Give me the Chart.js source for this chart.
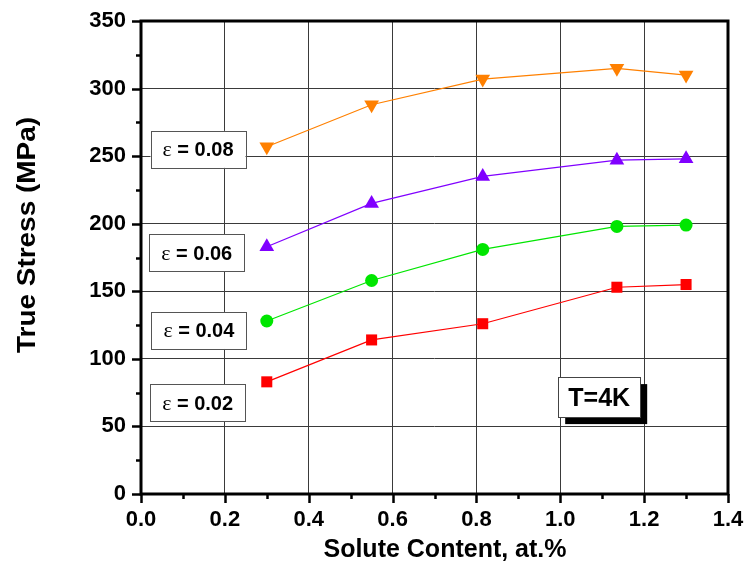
<!DOCTYPE html>
<html>
<head>
<meta charset="utf-8">
<script src="https://cdn.jsdelivr.net/npm/chart.js@4.4.1/dist/chart.umd.min.js"></script>
<style>
  html, body { margin: 0; padding: 0; background: #ffffff; }
  #chart { display: block; }
</style>
</head>
<body>
<canvas id="chart" width="746" height="565"></canvas>
<script>
// Solute content (at.%) for the five alloys
const soluteContent = [0.30, 0.55, 0.815, 1.135, 1.30];

// True stress (MPa) at each strain level
const stressStrain008 = [257, 288, 307, 315, 310];
const stressStrain006 = [183, 215, 235, 247, 248];
const stressStrain004 = [128, 158, 181, 198, 199];
const stressStrain002 = [83, 114, 126, 153, 155];

// Series labels written in the boxes beside each curve
const strainLabels = ['0.08', '0.06', '0.04', '0.02'];
// Where each label box sits, in data units (x, y of box centre)
const strainLabelX = [0.136, 0.133, 0.138, 0.135];
const strainLabelY = [255, 178.5, 121, 67.5];

const xTitle = 'Solute Content, at.%';
const yTitle = 'True Stress (MPa)';
const tempLabel = 'T=4K';

const BOLD = '"Liberation Sans", Arial, Helvetica, sans-serif';

function pts(ys) {
  return soluteContent.map((x, i) => ({ x: x, y: ys[i] }));
}

function series(label, ys, color, style, radius, rotation) {
  return {
    label: label,
    data: pts(ys),
    showLine: true,
    borderColor: color,
    backgroundColor: color,
    borderWidth: 1.2,
    pointStyle: style,
    pointRadius: radius,
    pointRotation: rotation || 0,
    pointBorderWidth: 0,
    pointBackgroundColor: color,
    pointBorderColor: color,
    fill: false,
    tension: 0
  };
}

// keep the plot box fixed: no extra room for overhanging tick labels
function fixScale(size) {
  return function (scale) {
    if (scale.isHorizontal()) scale.height = size; else scale.width = size;
    scale.paddingTop = 0;
    scale.paddingBottom = 0;
    scale.paddingLeft = 0;
    scale.paddingRight = 0;
  };
}

const decorations = {
  id: 'decorations',
  afterDraw(chart) {
    const ctx = chart.ctx;
    const a = chart.chartArea;
    const xs = chart.scales.x;
    const ys = chart.scales.y;
    ctx.save();

    // axis ticks (major and minor), pointing outward
    ctx.strokeStyle = '#000';
    ctx.lineCap = 'butt';
    for (let v = 0; v <= 350; v += 25) {
      const y = Math.round(ys.getPixelForValue(v)) + 0.5;
      const major = v % 50 === 0;
      ctx.lineWidth = 2.5;
      ctx.beginPath();
      ctx.moveTo(a.left, y);
      ctx.lineTo(a.left - (major ? 9 : 5), y);
      ctx.stroke();
    }
    for (let k = 0; k <= 14; k++) {
      const x = Math.round(xs.getPixelForValue(k / 10)) + 0.5;
      const major = k % 2 === 0;
      ctx.lineWidth = 2.5;
      ctx.beginPath();
      ctx.moveTo(x, a.bottom);
      ctx.lineTo(x, a.bottom + (major ? 9 : 5));
      ctx.stroke();
    }

    // frame around the plot
    ctx.lineWidth = 3;
    ctx.strokeRect(a.left, a.top, a.right - a.left, a.bottom - a.top);

    // strain label boxes
    strainLabels.forEach((txt, i) => {
      const cx = xs.getPixelForValue(strainLabelX[i]);
      const cy = ys.getPixelForValue(strainLabelY[i]);
      const w = 95, h = 37;
      ctx.fillStyle = '#fff';
      ctx.fillRect(cx - w / 2, cy - h / 2, w, h);
      ctx.strokeStyle = '#555';
      ctx.lineWidth = 1;
      ctx.strokeRect(Math.round(cx - w / 2) + 0.5, Math.round(cy - h / 2) + 0.5, w, h);

      const epsFont = '22px "Liberation Serif", "Times New Roman", serif';
      const restFont = 'bold 20px ' + BOLD;
      const rest = ' = ' + txt;
      ctx.font = epsFont;
      const w1 = ctx.measureText('\u03b5').width;
      ctx.font = restFont;
      const w2 = ctx.measureText(rest).width;
      let x0 = cx - (w1 + w2) / 2;
      ctx.fillStyle = '#000';
      ctx.textBaseline = 'alphabetic';
      ctx.textAlign = 'left';
      ctx.font = epsFont;
      ctx.fillText('\u03b5', x0, cy + 7);
      ctx.font = restFont;
      ctx.fillText(rest, x0 + w1, cy + 7);
    });

    // temperature box with drop shadow
    {
      const bx = xs.getPixelForValue(0.995), by = ys.getPixelForValue(86.5);
      const w = 82, h = 40;
      ctx.fillStyle = '#000';
      ctx.fillRect(bx + 7, by + 7, w, h);
      ctx.fillStyle = '#fff';
      ctx.fillRect(bx, by, w, h);
      ctx.strokeStyle = '#444';
      ctx.lineWidth = 1;
      ctx.strokeRect(Math.round(bx) + 0.5, Math.round(by) + 0.5, w, h);
      ctx.fillStyle = '#000';
      ctx.font = 'bold 25px ' + BOLD;
      ctx.textAlign = 'center';
      ctx.textBaseline = 'alphabetic';
      ctx.fillText(tempLabel, bx + w / 2, by + 29);
    }

    // axis titles
    ctx.fillStyle = '#000';
    ctx.font = 'bold 25px ' + BOLD;
    ctx.textAlign = 'center';
    ctx.textBaseline = 'alphabetic';
    ctx.fillText(xTitle, 445, 557);

    ctx.save();
    ctx.translate(35, 235);
    ctx.rotate(-Math.PI / 2);
    ctx.font = 'bold 25px ' + BOLD;
    const tw = ctx.measureText(yTitle).width;
    ctx.scale(236 / tw, 1);
    ctx.fillText(yTitle, 0, 0);
    ctx.restore();

    ctx.restore();
  }
};

new Chart(document.getElementById('chart'), {
  type: 'scatter',
  data: {
    datasets: [
      series('\u03b5 = 0.08', stressStrain008, '#FF8000', 'triangle', 8.5, 180),
      series('\u03b5 = 0.06', stressStrain006, '#8000FF', 'triangle', 8.5, 0),
      series('\u03b5 = 0.04', stressStrain004, '#00E600', 'circle', 6.5, 0),
      series('\u03b5 = 0.02', stressStrain002, '#FF0000', 'rect', 7.8, 0)
    ]
  },
  options: {
    responsive: false,
    animation: false,
    devicePixelRatio: 1,
    layout: { padding: { top: 21, right: 18, left: 0, bottom: 0 } },
    plugins: {
      legend: { display: false },
      tooltip: { enabled: false },
      title: { display: false }
    },
    scales: {
      x: {
        type: 'linear',
        min: 0,
        max: 1.4,
        afterFit: fixScale(71),
        border: { display: false },
        grid: { color: '#3a3a3a', lineWidth: 1, drawTicks: false },
        ticks: {
          stepSize: 0.2,
          padding: 13,
          color: '#000',
          font: { family: BOLD, size: 22, weight: 'bold' },
          callback: (v) => Number(v).toFixed(1)
        }
      },
      y: {
        type: 'linear',
        min: 0,
        max: 350,
        afterFit: fixScale(141),
        border: { display: false },
        grid: { color: '#3a3a3a', lineWidth: 1, drawTicks: false },
        ticks: {
          stepSize: 50,
          padding: 15,
          color: '#000',
          font: { family: BOLD, size: 22, weight: 'bold' }
        }
      }
    }
  },
  plugins: [decorations]
});
</script>
</body>
</html>
